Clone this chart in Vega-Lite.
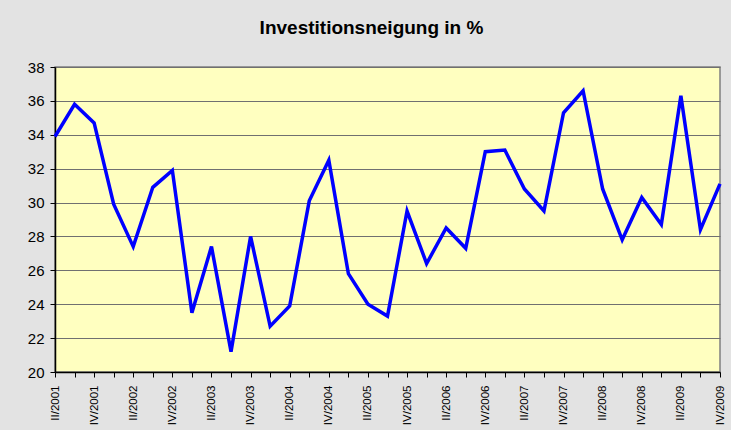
{
  "$schema": "https://vega.github.io/schema/vega-lite/v6.json",
  "autosize": {"type": "none"},
  "width": 665,
  "height": 305,
  "padding": {"left": 55, "top": 67, "right": 11, "bottom": 58},
  "background": "#E3E3E3",
  "title": {
    "text": "Investitionsneigung in %",
    "font": "Liberation Sans",
    "fontSize": 19,
    "fontWeight": "bold",
    "color": "#000000",
    "anchor": "middle",
    "dx": -16,
    "offset": 22
  },
  "config": {
    "view": {"fill": "#FFFFC0", "stroke": "#808080", "strokeWidth": 1.5},
    "axis": {"labelFont": "Liberation Sans", "titleFont": "Liberation Sans"}
  },
  "data": {
    "values": [
      {"q": "II/2001", "v": 33.9},
      {"q": "III/2001", "v": 35.8},
      {"q": "IV/2001", "v": 34.7},
      {"q": "I/2002", "v": 29.9},
      {"q": "II/2002", "v": 27.4},
      {"q": "III/2002", "v": 30.9},
      {"q": "IV/2002", "v": 31.9},
      {"q": "I/2003", "v": 23.5},
      {"q": "II/2003", "v": 27.4},
      {"q": "III/2003", "v": 21.2},
      {"q": "IV/2003", "v": 28.0},
      {"q": "I/2004", "v": 22.7},
      {"q": "II/2004", "v": 23.9},
      {"q": "III/2004", "v": 30.1},
      {"q": "IV/2004", "v": 32.5},
      {"q": "I/2005", "v": 25.8},
      {"q": "II/2005", "v": 24.0},
      {"q": "III/2005", "v": 23.3},
      {"q": "IV/2005", "v": 29.5},
      {"q": "I/2006", "v": 26.4},
      {"q": "II/2006", "v": 28.5},
      {"q": "III/2006", "v": 27.3},
      {"q": "IV/2006", "v": 33.0},
      {"q": "I/2007", "v": 33.1},
      {"q": "II/2007", "v": 30.8},
      {"q": "III/2007", "v": 29.5},
      {"q": "IV/2007", "v": 35.3},
      {"q": "I/2008", "v": 36.6},
      {"q": "II/2008", "v": 30.8},
      {"q": "III/2008", "v": 27.8},
      {"q": "IV/2008", "v": 30.3},
      {"q": "I/2009", "v": 28.7},
      {"q": "II/2009", "v": 36.3},
      {"q": "III/2009", "v": 28.4},
      {"q": "IV/2009", "v": 31.1}
    ]
  },
  "mark": {"type": "line", "color": "#0000FF", "strokeWidth": 3.5, "strokeJoin": "miter"},
  "encoding": {
    "x": {
      "field": "q",
      "type": "ordinal",
      "sort": null,
      "scale": {"type": "point", "padding": 0},
      "axis": {
        "title": null,
        "labelAngle": 270,
        "labelFontSize": 11.5,
        "labelColor": "#000000",
        "labelPadding": 8,
        "labelExpr": "(slice(datum.value,0,3)=='II/' || slice(datum.value,0,3)=='IV/') ? datum.value : ''",
        "tickSize": 5,
        "tickColor": "#000000",
        "domainColor": "#000000",
        "domainWidth": 1.5,
        "grid": false,
        "labelOverlap": false
      }
    },
    "y": {
      "field": "v",
      "type": "quantitative",
      "scale": {"domain": [20, 38], "nice": false, "zero": false},
      "axis": {
        "title": null,
        "values": [20, 22, 24, 26, 28, 30, 32, 34, 36, 38],
        "labelFontSize": 15,
        "labelColor": "#000000",
        "labelPadding": 6,
        "tickSize": 5,
        "tickColor": "#000000",
        "domainColor": "#000000",
        "domainWidth": 1.5,
        "grid": true,
        "gridColor": "#707070",
        "gridWidth": 1.2,
        "gridOpacity": 1
      }
    }
  }
}
